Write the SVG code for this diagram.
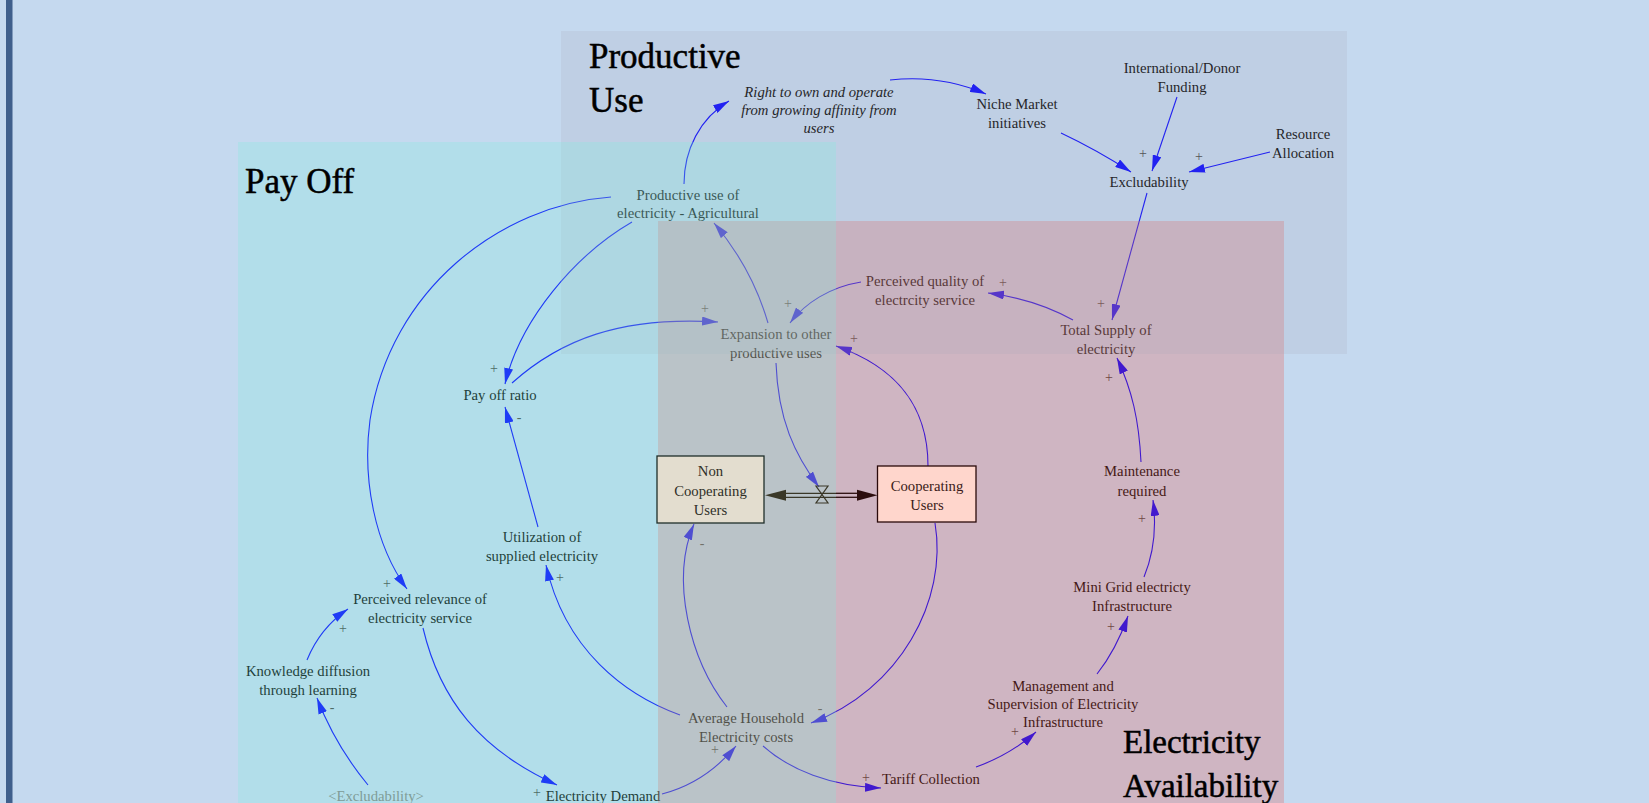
<svg xmlns="http://www.w3.org/2000/svg" width="1649" height="803" viewBox="0 0 1649 803">
<defs>
<style>
.t{font-family:"Liberation Serif","Times New Roman",serif;font-size:14.7px;fill:#000;text-anchor:middle}
.it{font-style:italic}
.g{fill:#808080}
.s{font-family:"Liberation Serif","Times New Roman",serif;font-size:14px;fill:#404040;text-anchor:middle}
.ti{font-family:"Liberation Serif","Times New Roman",serif;font-size:35px;fill:#000;stroke:#000;stroke-width:0.5}
.c{fill:none;stroke:#0000ff;stroke-width:1.1;marker-end:url(#ah)}
.box{stroke-width:1.3}
</style>
<marker id="ah" markerUnits="userSpaceOnUse" viewBox="0 0 16 9" markerWidth="16" markerHeight="9" refX="16" refY="4.5" orient="auto"><path d="M0,0 L16,4.5 L0,9 z" fill="#0000ff"/></marker>
</defs>
<rect x="0" y="0" width="1649" height="803" fill="#c5d9ef"/>
<rect x="6" y="0" width="6.5" height="803" fill="#3f5f8c"/>

<g id="connectors">
<path class="c" d="M684,184 C684,150 700,118 729,101"/>
<path class="c" d="M890,80 C925,76 958,82 986,94"/>
<path class="c" d="M1061,133 Q1097,150 1131,172"/>
<path class="c" d="M1177,97 L1152,171"/>
<path class="c" d="M1270,152 L1189,172"/>
<path class="c" d="M1147,193 L1112,320"/>
<path class="c" d="M1073,320 Q1035,299 988,293"/>
<path class="c" d="M861,282 C830,287 805,303 790,323"/>
<path class="c" d="M768,323 Q752,268 714,223"/>
<path class="c" d="M632,222 C575,255 520,320 505,384"/>
<path class="c" d="M512,383 C560,340 620,316 718,322"/>
<path class="c" d="M776,363 C778,420 795,455 819,487"/>
<path class="c" d="M928,466 C928,400 890,365 836,346"/>
<path class="c" d="M935,523 C948,600 900,690 811,723"/>
<path class="c" d="M727,707 C690,660 670,580 694,524"/>
<path class="c" d="M680,715 C625,695 565,650 546,565"/>
<path class="c" d="M538,527 L505,407"/>
<path class="c" d="M611,197 C500,205 390,290 370,420 C362,480 375,545 407,589"/>
<path class="c" d="M423,628 C440,700 480,750 557,785"/>
<path class="c" d="M662,794 Q705,783 736,746"/>
<path class="c" d="M763,746 C790,770 830,786 881,788"/>
<path class="c" d="M976,767 Q1010,755 1036,732"/>
<path class="c" d="M1097,674 Q1116,650 1128,616"/>
<path class="c" d="M1144,577 C1153,555 1157,530 1153,500"/>
<path class="c" d="M1141,462 C1139,420 1132,390 1117,358"/>
<path class="c" d="M368,785 Q335,745 317,698"/>
<path class="c" d="M307,660 Q320,628 348,609"/>
</g>

<g id="polarities">
<text class="s" x="1143" y="158">+</text>
<text class="s" x="1199" y="161">+</text>
<text class="s" x="1101" y="308">+</text>
<text class="s" x="1109" y="382">+</text>
<text class="s" x="1003" y="287">+</text>
<text class="s" x="788" y="308">+</text>
<text class="s" x="705" y="313">+</text>
<text class="s" x="854" y="343">+</text>
<text class="s" x="494" y="373">+</text>
<text class="s" x="519" y="422">-</text>
<text class="s" x="1142" y="523">+</text>
<text class="s" x="1111" y="631">+</text>
<text class="s" x="1015" y="736">+</text>
<text class="s" x="866" y="782">+</text>
<text class="s" x="820" y="713">-</text>
<text class="s" x="715" y="754">+</text>
<text class="s" x="702" y="548">-</text>
<text class="s" x="560" y="582">+</text>
<text class="s" x="387" y="588">+</text>
<text class="s" x="343" y="633">+</text>
<text class="s" x="332" y="712">-</text>
<text class="s" x="537" y="797">+</text>
</g>

<g id="n-right-to-own"><text class="t it" x="819" y="97">Right to own and operate</text><text class="t it" x="819" y="115">from growing affinity from</text><text class="t it" x="819" y="133">users</text></g>
<g id="n-niche"><text class="t" x="1017" y="109">Niche Market</text><text class="t" x="1017" y="128">initiatives</text></g>
<g id="n-donor"><text class="t" x="1182" y="73">International/Donor</text><text class="t" x="1182" y="92">Funding</text></g>
<g id="n-resource"><text class="t" x="1303" y="139">Resource</text><text class="t" x="1303" y="158">Allocation</text></g>
<g id="n-excludability"><text class="t" x="1149" y="187">Excludability</text></g>
<g id="n-productive-use"><text class="t" x="688" y="200">Productive use of</text><text class="t" x="688" y="218">electricity - Agricultural</text></g>
<g id="n-perceived-quality"><text class="t" x="925" y="286">Perceived quality of</text><text class="t" x="925" y="305">electrcity service</text></g>
<g id="n-total-supply"><text class="t" x="1106" y="335">Total Supply of</text><text class="t" x="1106" y="354">electricity</text></g>
<g id="n-expansion"><text class="t" x="776" y="339">Expansion to other</text><text class="t" x="776" y="358">productive uses</text></g>
<g id="n-payoff-ratio"><text class="t" x="500" y="400">Pay off ratio</text></g>
<g id="n-maintenance"><text class="t" x="1142" y="476">Maintenance</text><text class="t" x="1142" y="496">required</text></g>
<g id="n-utilization"><text class="t" x="542" y="542">Utilization of</text><text class="t" x="542" y="561">supplied electricity</text></g>
<g id="n-minigrid"><text class="t" x="1132" y="592">Mini Grid electricty</text><text class="t" x="1132" y="611">Infrastructure</text></g>
<g id="n-perceived-relevance"><text class="t" x="420" y="604">Perceived relevance of</text><text class="t" x="420" y="623">electricity service</text></g>
<g id="n-knowledge"><text class="t" x="308" y="676">Knowledge diffusion</text><text class="t" x="308" y="695">through learning</text></g>
<g id="n-management"><text class="t" x="1063" y="691">Management and</text><text class="t" x="1063" y="709">Supervision of Electricity</text><text class="t" x="1063" y="727">Infrastructure</text></g>
<g id="n-avg-cost"><text class="t" x="746" y="723">Average Household</text><text class="t" x="746" y="742">Electricity costs</text></g>
<g id="n-tariff"><text class="t" x="931" y="784">Tariff Collection</text></g>
<g id="n-demand"><text class="t" x="603" y="801">Electricity Demand</text></g>
<g id="n-excludability-shadow"><text class="t g" x="376" y="801">&lt;Excludability&gt;</text></g>

<g id="regions">
<rect x="658" y="221" width="626" height="582" fill="#e9584e" fill-opacity="0.28"/>
<rect x="561" y="31" width="786" height="323" fill="#acacb8" fill-opacity="0.2"/>
<rect x="238" y="142" width="598" height="661" fill="#7df1db" fill-opacity="0.25"/>
</g>

<g id="flow">
<line x1="786" y1="493.3" x2="836" y2="493.3" stroke="#3a3828" stroke-width="1.3"/>
<line x1="786" y1="497.3" x2="836" y2="497.3" stroke="#3a3828" stroke-width="1.3"/>
<line x1="836" y1="493.3" x2="858" y2="493.3" stroke="#2c0e0e" stroke-width="1.3"/>
<line x1="836" y1="497.3" x2="858" y2="497.3" stroke="#2c0e0e" stroke-width="1.3"/>
<path d="M765,495.3 L786,489.8 L786,500.8 z" fill="#3a3828"/>
<path d="M877.5,495.3 L857,489.8 L857,500.8 z" fill="#2c0e0e"/>
<path d="M816,486 L828,486 L816,503 L828,503 z" fill="none" stroke="#3a3828" stroke-width="1.2"/>
</g>

<g id="n-noncooperating">
<rect class="box" x="657" y="456" width="107" height="67" fill="#e3ddcf" stroke="#1f2e2a"/>
<text class="t" x="710.5" y="476" style="fill:#2f2f28">Non</text><text class="t" x="710.5" y="496" style="fill:#2f2f28">Cooperating</text><text class="t" x="710.5" y="515" style="fill:#2f2f28">Users</text>
</g>
<g id="n-cooperating">
<rect class="box" x="877.5" y="466" width="98.5" height="56" fill="#ffd6cc" stroke="#2a0a0a"/>
<text class="t" x="927" y="491" style="fill:#3a1a18">Cooperating</text><text class="t" x="927" y="510" style="fill:#3a1a18">Users</text>
</g>

<g id="titles">
<text class="ti" x="245" y="193">Pay Off</text>
<text class="ti" x="589" y="68">Productive</text>
<text class="ti" x="589" y="112">Use</text>
<text class="ti" x="1123" y="753" style="font-size:33px">Electricity</text>
<text class="ti" x="1123" y="797" style="font-size:33px">Availability</text>
</g>
</svg>
